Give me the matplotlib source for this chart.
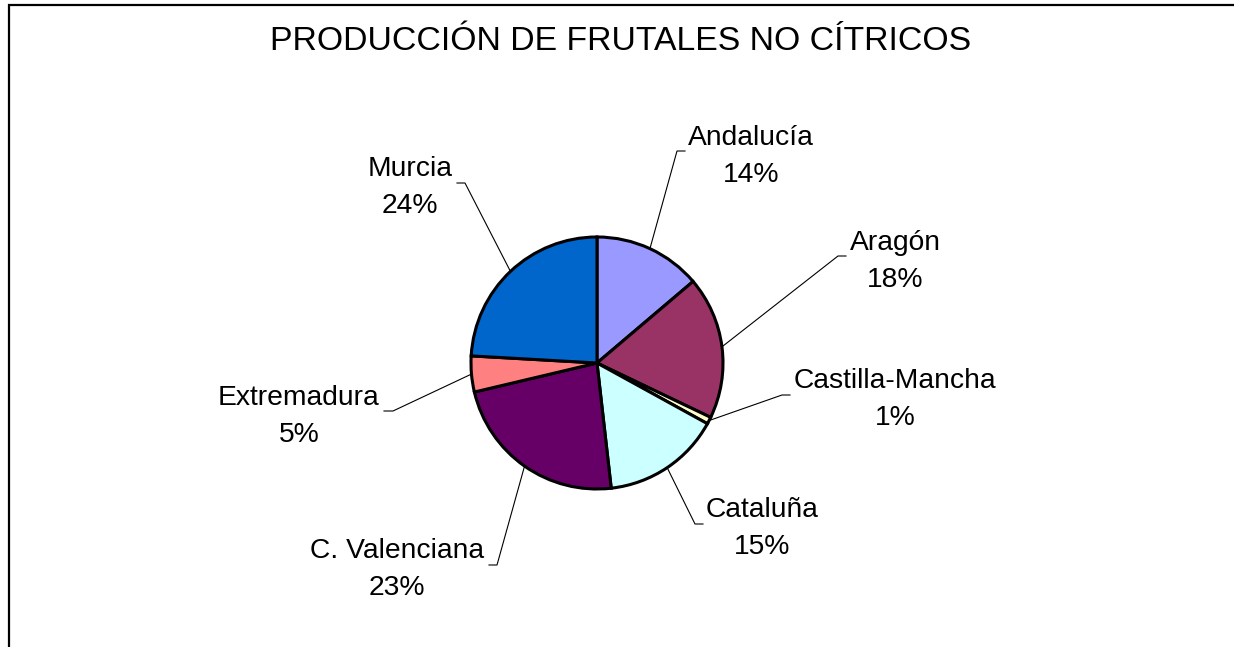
import matplotlib
matplotlib.use("Agg")
import matplotlib.pyplot as plt
import numpy as np

plt.rcParams['font.family'] = ['Liberation Sans', 'DejaVu Sans']

# ---- data ----
regions = ["Andalucía", "Aragón", "Castilla-Mancha", "Cataluña",
           "C. Valenciana", "Extremadura", "Murcia"]
shares = [13.8, 18.3, 0.9, 15.2, 23.1, 4.6, 24.1]
colors = ["#9999FF", "#993366", "#FFFFCC", "#CCFFFF",
          "#660066", "#FF8080", "#0066CC"]
title = "PRODUCCIÓN DE FRUTALES NO CÍTRICOS"

# ---- layout (pixel space, y measured from top) ----
W, H = 1234, 647
center = (597, 363)
radius = 126
# label anchor: (x centre, baseline of name line)
label_pos = [(751, 145), (895, 250), (895, 388), (762, 517),
             (397, 558), (299, 405), (410, 176)]
# leader elbow (diagonal end) and horizontal end
elbow = [(677, 151), (838, 256), (782, 395), (695, 524),
         (497, 565), (393, 411), (465, 183)]
elbow_end = [(685, 151), (846, 256), (790, 395), (703, 524),
             (489, 565), (384, 411), (457, 183)]
line_gap = 37

fig = plt.figure(figsize=(W / 100, H / 100), dpi=100)
ax = fig.add_axes([0, 0, 1, 1])

def fy(y):
    return H - y

wedges, _ = ax.pie(shares, colors=colors, startangle=90, counterclock=False,
                   center=(center[0], fy(center[1])), radius=radius,
                   wedgeprops=dict(edgecolor='black', linewidth=2.2))

ax.set_xlim(0, W)
ax.set_ylim(0, H)
ax.set_aspect('equal')
ax.axis('off')

for i, w in enumerate(wedges):
    mid = np.deg2rad((w.theta1 + w.theta2) / 2)
    sx = center[0] + radius * np.cos(mid)
    sy = fy(center[1]) + radius * np.sin(mid)
    ex, ey = elbow[i]
    hx, hy = elbow_end[i]
    ax.plot([sx, ex, hx], [sy, fy(ey), fy(hy)], color='black', lw=0.8,
            solid_joinstyle='miter', zorder=0)
    lx, ly = label_pos[i]
    pct = f"{round(shares[i] / sum(shares) * 100):d}%"
    ax.text(lx, fy(ly), regions[i], ha='center', va='baseline', fontsize=20.3)
    ax.text(lx, fy(ly + line_gap), pct, ha='center', va='baseline', fontsize=20.3)

ax.text(621, fy(50), title, ha='center', va='baseline', fontsize=24.3)

# chart area border (top and left edges visible)
ax.plot([9, 9, W + 5], [-5, fy(4.5), fy(4.5)], color='black', lw=1.6,
        solid_joinstyle='miter', clip_on=False)

fig.savefig("out.png", dpi=100, facecolor='white')
